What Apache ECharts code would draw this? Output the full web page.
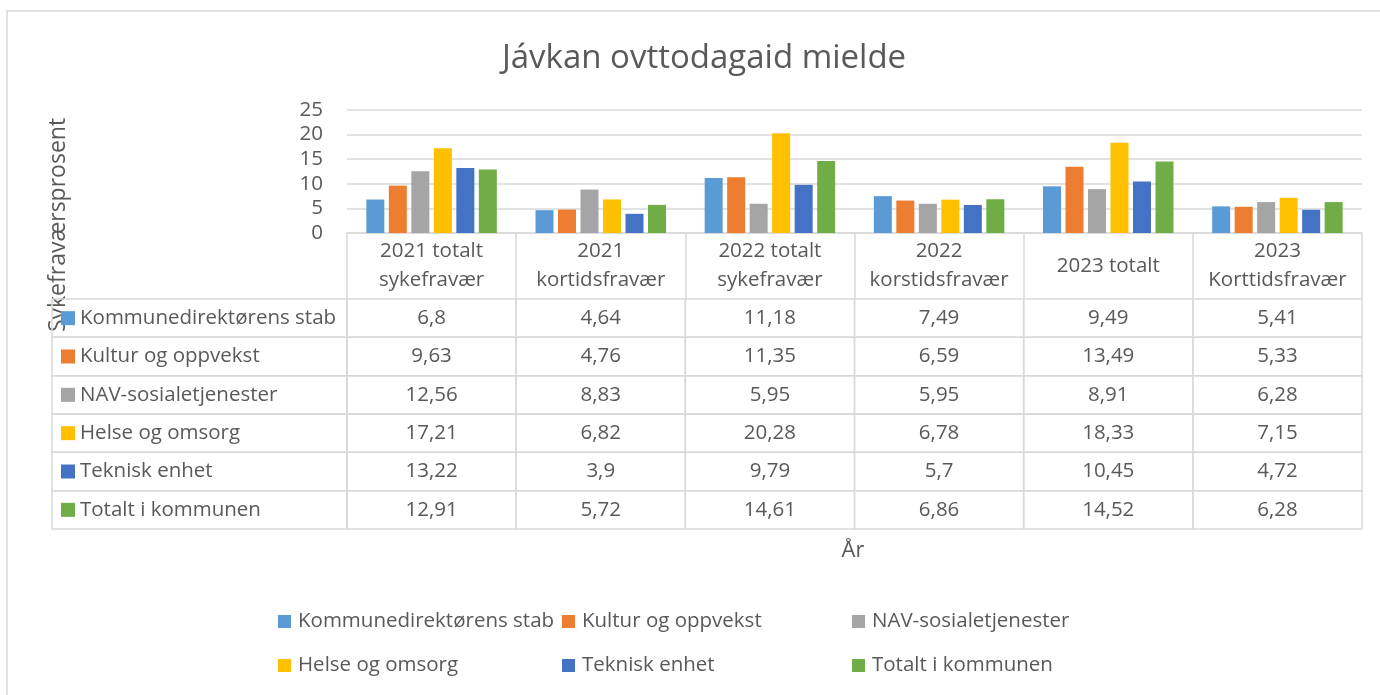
<!DOCTYPE html>
<html>
<head>
<meta charset="utf-8">
<script src="https://cdn.jsdelivr.net/npm/echarts@6/dist/echarts.min.js"></script>
<style>
  html, body { margin: 0; padding: 0; background: #fff; }
  #chart { width: 1380px; height: 695px; }
</style>
</head>
<body>
<div id="chart"></div>
<script>
const categories = [
  '2021 totalt\nsykefravær',
  '2021\nkortidsfravær',
  '2022 totalt\nsykefravær',
  '2022\nkorstidsfravær',
  '2023 totalt',
  '2023\nKorttidsfravær'
];
const seriesNames = [
  'Kommunedirektørens stab',
  'Kultur og oppvekst',
  'NAV-sosialetjenester',
  'Helse og omsorg',
  'Teknisk enhet',
  'Totalt i kommunen'
];
const stab = [6.8, 4.64, 11.18, 7.49, 9.49, 5.41];
const kultur = [9.63, 4.76, 11.35, 6.59, 13.49, 5.33];
const nav = [12.56, 8.83, 5.95, 5.95, 8.91, 6.28];
const helse = [17.21, 6.82, 20.28, 6.78, 18.33, 7.15];
const teknisk = [13.22, 3.9, 9.79, 5.7, 10.45, 4.72];
const totalt = [12.91, 5.72, 14.61, 6.86, 14.52, 6.28];
const colors = ['#5B9BD5', '#ED7D31', '#A5A5A5', '#FFC000', '#4472C4', '#70AD47'];

const allValues = [stab, kultur, nav, helse, teknisk, totalt];
const FONT = 'Open Sans';
const FS = 20.5;
const TEXT = '#595959';
const LINE = '#d9d9d9';

const fmt = v => String(v).replace('.', ',');

// table cells: [column, row, value]
const tableData = [];
allValues.forEach((vals, row) => {
  vals.forEach((v, col) => tableData.push([col, row, v]));
});

function renderCell(params, api) {
  const col = api.value(0);
  const row = api.value(1);
  const v = api.value(2);
  const c = api.coord([col, row]);
  const s = api.size([1, 1]);
  const x0 = c[0] - s[0] / 2;
  const y0 = c[1] - s[1] / 2;
  const children = [
    { type: 'rect', shape: { x: x0, y: y0, width: s[0], height: s[1] },
      style: { fill: 'none', stroke: LINE, lineWidth: 1.5 } },
    { type: 'text', x: c[0], y: c[1],
      style: { text: fmt(v), fontFamily: FONT, fontSize: FS, fill: TEXT,
               align: 'center', verticalAlign: 'middle' } }
  ];
  if (col === 0) {
    const left = 52;
    children.push(
      { type: 'rect', shape: { x: left, y: y0, width: x0 - left, height: s[1] },
        style: { fill: 'none', stroke: LINE, lineWidth: 1.5 } },
      { type: 'rect', shape: { x: 61, y: c[1] - 7, width: 14, height: 14 },
        style: { fill: colors[row] } },
      { type: 'text', x: 80, y: c[1],
        style: { text: seriesNames[row], fontFamily: FONT, fontSize: FS, fill: TEXT,
                 align: 'left', verticalAlign: 'middle' } }
    );
  }
  return { type: 'group', children };
}

const chart = echarts.init(document.getElementById('chart'));

const barSeries = seriesNames.map((name, i) => ({
  name,
  type: 'bar',
  xAxisIndex: 0,
  yAxisIndex: 0,
  data: allValues[i],
  barWidth: 18,
  barGap: '25%',
  itemStyle: { color: colors[i] },
  silent: true
}));

// one legend per item so the columns line up like the original
const legendLeft = [278, 562, 852];
const legendTop = [611, 655];
const legends = seriesNames.map((name, i) => ({
  data: [name],
  left: legendLeft[i % 3],
  top: legendTop[Math.floor(i / 3)],
  padding: 0,
  itemWidth: 13, itemHeight: 13, icon: 'rect',
  selectedMode: false,
  textStyle: { fontFamily: FONT, fontSize: FS, color: TEXT, padding: [0, 0, 0, 2] }
}));

chart.setOption({
  animation: false,
  textStyle: { fontFamily: FONT },
  title: {
    text: 'Jávkan ovttodagaid mielde',
    left: 699,
    top: 37,
    textAlign: 'center',
    textStyle: { fontFamily: FONT, fontSize: 33, fontWeight: 'normal', color: TEXT }
  },
  grid: [
    { left: 347, right: 18, top: 110, height: 123 },
    { left: 347, right: 18, top: 299, height: 230 }
  ],
  xAxis: [
    {
      type: 'category',
      gridIndex: 0,
      data: categories,
      axisLine: { lineStyle: { color: LINE, width: 1.5 } },
      axisTick: { show: true, length: 66, lineStyle: { color: LINE, width: 1.5 } },
      axisLabel: {
        interval: 0, margin: 33, verticalAlign: 'middle', lineHeight: 29,
        fontFamily: FONT, fontSize: FS, color: TEXT
      }
    },
    { type: 'category', gridIndex: 1, data: categories, show: false }
  ],
  yAxis: [
    {
      type: 'value',
      gridIndex: 0,
      min: 0, max: 25, interval: 5,
      axisLine: { show: false },
      axisTick: { show: false },
      axisLabel: { margin: 24, fontFamily: FONT, fontSize: FS, color: TEXT },
      splitLine: { lineStyle: { color: LINE, width: 1.5 } }
    },
    { type: 'category', gridIndex: 1, data: seriesNames, inverse: true, show: false }
  ],
  legend: legends,
  graphic: [
    { type: 'rect', shape: { x: 7, y: 11, width: 1400, height: 720 },
      style: { fill: 'none', stroke: LINE, lineWidth: 1.5 }, silent: true },
    { type: 'text', x: 58, y: 225, rotation: Math.PI / 2,
      style: { text: 'Sykefraværsprosent', fontFamily: FONT, fontSize: 23, fill: TEXT,
               align: 'center', verticalAlign: 'middle' } },
    { type: 'text', x: 853, y: 551,
      style: { text: 'År', fontFamily: FONT, fontSize: 22, fill: TEXT,
               align: 'center', verticalAlign: 'middle' } }
  ],
  series: barSeries.concat([{
    name: 'table',
    type: 'custom',
    xAxisIndex: 1,
    yAxisIndex: 1,
    data: tableData,
    renderItem: renderCell,
    silent: true
  }])
});
</script>
</body>
</html>
